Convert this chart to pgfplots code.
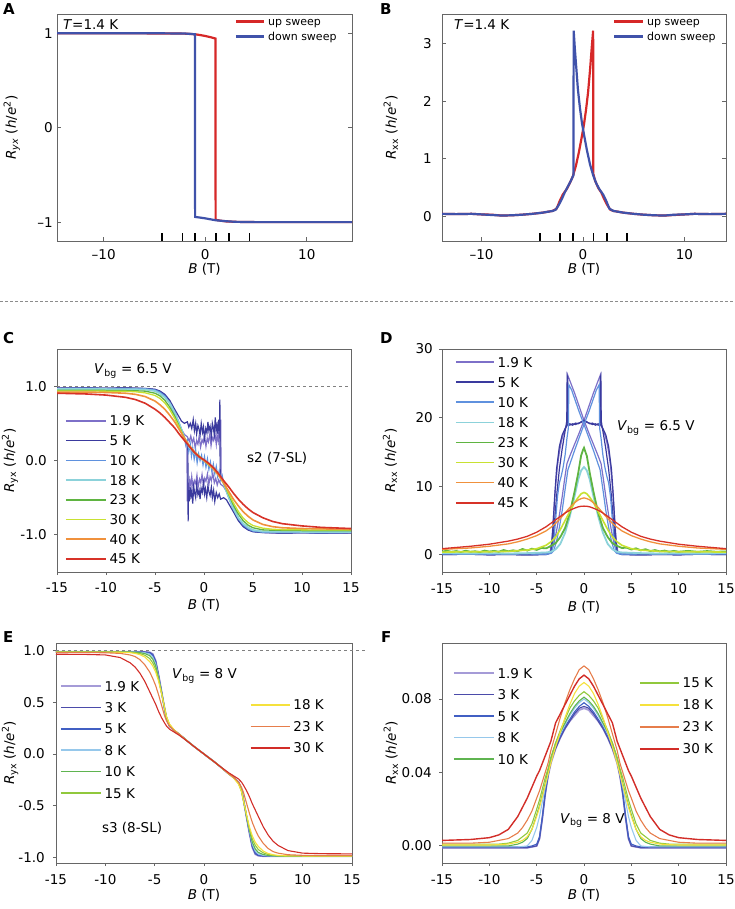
\documentclass[border=0pt]{standalone}
\usepackage{fontspec}
\setmainfont{DejaVu Sans}
\usepackage{pgfplots}
\usepackage{pgfplotstable}
\pgfplotsset{compat=1.18}

\definecolor{upred}{RGB}{214,40,40}
\definecolor{dnblu}{RGB}{64,82,170}
\definecolor{ka}{RGB}{125,112,200}
\definecolor{kb}{RGB}{58,58,158}
\definecolor{kc}{RGB}{95,145,222}
\definecolor{kd}{RGB}{140,210,218}
\definecolor{kg}{RGB}{95,180,65}
\definecolor{kh}{RGB}{200,225,50}
\definecolor{ki}{RGB}{240,145,60}
\definecolor{kj}{RGB}{215,50,40}
\definecolor{ma}{RGB}{165,155,215}
\definecolor{mb}{RGB}{75,75,170}
\definecolor{mc}{RGB}{65,95,195}
\definecolor{md}{RGB}{150,200,235}
\definecolor{mg}{RGB}{95,180,80}
\definecolor{mh}{RGB}{145,200,60}
\definecolor{mi}{RGB}{245,225,60}
\definecolor{mj}{RGB}{230,125,75}
\definecolor{mk}{RGB}{210,45,40}

\newcommand{\fs}{\fontsize{13.5}{15}\selectfont}
\newcommand{\fss}{\fontsize{11}{13}\selectfont}

\pgfplotstableread[row sep=\\]{
B d e f g h\\
-15 0.96 0.945 0.935 0.92 0.905\\
-12 0.962 0.945 0.935 0.92 0.895\\
-10 0.96 0.943 0.933 0.915 0.88\\
-8 0.958 0.94 0.93 0.905 0.85\\
-7 0.957 0.938 0.925 0.89 0.82\\
-6 0.955 0.933 0.91 0.86 0.77\\
-5 0.935 0.905 0.875 0.8 0.69\\
-4.5 0.9 0.87 0.835 0.75 0.64\\
-4 0.85 0.81 0.775 0.69 0.58\\
-3.5 0.77 0.72 0.685 0.61 0.51\\
-3 0.65 0.6 0.57 0.52 0.44\\
-2.5 0.49 0.45 0.44 0.41 0.35\\
-2 0.31 0.3 0.3 0.3 0.27\\
-1.5 0.18 0.19 0.2 0.2 0.19\\
-1 0.1 0.11 0.12 0.12 0.11\\
-0.5 0.05 0.06 0.06 0.05 0.05\\
0 0 0 0 0 0.01\\
0.5 -0.05 -0.06 -0.06 -0.05 -0.04\\
1 -0.1 -0.11 -0.12 -0.12 -0.1\\
1.5 -0.18 -0.19 -0.2 -0.2 -0.18\\
2 -0.31 -0.3 -0.3 -0.3 -0.27\\
2.5 -0.49 -0.45 -0.44 -0.41 -0.35\\
3 -0.65 -0.6 -0.57 -0.52 -0.44\\
3.5 -0.77 -0.72 -0.685 -0.61 -0.52\\
4 -0.85 -0.81 -0.775 -0.69 -0.59\\
4.5 -0.9 -0.87 -0.835 -0.75 -0.65\\
5 -0.935 -0.905 -0.875 -0.8 -0.7\\
6 -0.955 -0.933 -0.91 -0.86 -0.77\\
7 -0.957 -0.938 -0.925 -0.89 -0.82\\
8 -0.958 -0.94 -0.93 -0.905 -0.85\\
10 -0.96 -0.943 -0.933 -0.915 -0.88\\
12 -0.962 -0.945 -0.935 -0.92 -0.9\\
15 -0.96 -0.945 -0.935 -0.925 -0.915\\
}\tabC

\pgfplotstableread[row sep=\\]{
B d f g h\\
-15 0.25 0.4 0.8 0.9\\
-12 0.2 0.45 1.0 1.25\\
-10 0.25 0.45 1.25 1.55\\
-8 0.2 0.5 1.6 2.0\\
-7 0.22 0.6 1.9 2.3\\
-6 0.25 0.7 2.3 2.7\\
-5 0.3 0.9 2.8 3.3\\
-4 0.35 1.4 3.5 4.1\\
-3.5 0.45 1.9 4.0 4.6\\
-3 0.8 2.6 4.6 5.1\\
-2.5 1.6 3.7 5.3 5.6\\
-2 3.2 5.0 6.1 6.1\\
-1.5 5.6 6.3 6.9 6.5\\
-1 8.5 7.6 7.6 6.8\\
-0.6 11 8.4 8.0 7.0\\
-0.3 12.3 8.9 8.2 7.08\\
0 12.8 9.1 8.3 7.1\\
0.3 12.3 8.9 8.2 7.08\\
0.6 11 8.4 8.0 7.0\\
1 8.5 7.6 7.6 6.8\\
1.5 5.6 6.3 6.9 6.5\\
2 3.2 5.0 6.1 6.1\\
2.5 1.6 3.7 5.3 5.6\\
3 0.8 2.6 4.6 5.1\\
3.5 0.45 1.9 4.0 4.6\\
4 0.35 1.4 3.5 4.1\\
5 0.3 0.9 2.8 3.3\\
6 0.25 0.7 2.3 2.7\\
7 0.22 0.6 1.9 2.3\\
8 0.2 0.5 1.6 2.0\\
10 0.25 0.45 1.25 1.55\\
12 0.2 0.45 1.0 1.25\\
15 0.25 0.4 0.8 0.9\\
}\tabD

\pgfplotstableread[row sep=\\]{
B a b c d e f g h i\\
-15 0.985 0.985 0.985 0.985 0.984 0.983 0.982 0.978 0.962\\
-12 0.985 0.985 0.985 0.985 0.984 0.983 0.982 0.978 0.96\\
-10 0.985 0.985 0.985 0.985 0.984 0.983 0.982 0.976 0.955\\
-8.5 0.985 0.985 0.985 0.985 0.984 0.983 0.981 0.97 0.93\\
-7.5 0.985 0.985 0.985 0.984 0.983 0.981 0.977 0.955 0.88\\
-7 0.985 0.985 0.984 0.983 0.981 0.976 0.97 0.94 0.84\\
-6.5 0.985 0.984 0.983 0.981 0.977 0.968 0.958 0.91 0.78\\
-6 0.984 0.983 0.981 0.976 0.968 0.952 0.935 0.86 0.7\\
-5.5 0.98 0.978 0.974 0.962 0.948 0.92 0.89 0.79 0.6\\
-5.2 0.965 0.96 0.955 0.935 0.915 0.88 0.85 0.73 0.54\\
-4.9 0.9 0.895 0.89 0.87 0.85 0.82 0.79 0.66 0.48\\
-4.6 0.76 0.755 0.75 0.74 0.73 0.72 0.7 0.57 0.41\\
-4.3 0.6 0.6 0.6 0.59 0.59 0.59 0.58 0.47 0.35\\
-4 0.44 0.44 0.44 0.44 0.44 0.45 0.45 0.37 0.3\\
-3.8 0.34 0.34 0.345 0.345 0.35 0.36 0.36 0.32 0.27\\
-3.5 0.27 0.27 0.27 0.275 0.28 0.285 0.29 0.27 0.24\\
-3 0.225 0.225 0.225 0.225 0.225 0.23 0.23 0.225 0.21\\
-2.5 0.19 0.19 0.19 0.19 0.19 0.19 0.19 0.19 0.18\\
-2 0.15 0.15 0.15 0.15 0.15 0.15 0.15 0.15 0.145\\
-1.5 0.11 0.11 0.11 0.11 0.11 0.11 0.11 0.11 0.11\\
-1 0.072 0.072 0.072 0.072 0.072 0.072 0.072 0.072 0.072\\
-0.5 0.036 0.036 0.036 0.036 0.036 0.036 0.036 0.036 0.036\\
0 0 0 0 0 0 0 0 0 0\\
0.5 -0.036 -0.036 -0.036 -0.036 -0.036 -0.036 -0.036 -0.036 -0.036\\
1 -0.072 -0.072 -0.072 -0.072 -0.072 -0.072 -0.072 -0.072 -0.072\\
1.5 -0.11 -0.11 -0.11 -0.11 -0.11 -0.11 -0.11 -0.11 -0.11\\
2 -0.15 -0.15 -0.15 -0.15 -0.15 -0.15 -0.15 -0.15 -0.145\\
2.5 -0.19 -0.19 -0.19 -0.19 -0.19 -0.19 -0.19 -0.19 -0.18\\
3 -0.225 -0.225 -0.225 -0.225 -0.225 -0.23 -0.23 -0.225 -0.21\\
3.5 -0.27 -0.27 -0.27 -0.275 -0.28 -0.285 -0.29 -0.27 -0.24\\
3.8 -0.34 -0.34 -0.345 -0.345 -0.35 -0.36 -0.36 -0.32 -0.27\\
4 -0.44 -0.44 -0.44 -0.44 -0.44 -0.45 -0.45 -0.37 -0.3\\
4.3 -0.6 -0.6 -0.6 -0.59 -0.59 -0.59 -0.58 -0.47 -0.35\\
4.6 -0.76 -0.755 -0.75 -0.74 -0.73 -0.72 -0.7 -0.57 -0.41\\
4.9 -0.9 -0.895 -0.89 -0.87 -0.85 -0.82 -0.79 -0.66 -0.48\\
5.2 -0.965 -0.96 -0.955 -0.935 -0.915 -0.88 -0.85 -0.73 -0.54\\
5.5 -0.98 -0.978 -0.974 -0.962 -0.948 -0.92 -0.89 -0.79 -0.6\\
6 -0.984 -0.983 -0.981 -0.976 -0.968 -0.952 -0.935 -0.86 -0.7\\
6.5 -0.985 -0.984 -0.983 -0.981 -0.977 -0.968 -0.958 -0.91 -0.78\\
7 -0.985 -0.985 -0.984 -0.983 -0.981 -0.976 -0.97 -0.94 -0.84\\
7.5 -0.985 -0.985 -0.985 -0.984 -0.983 -0.981 -0.977 -0.955 -0.88\\
8.5 -0.985 -0.985 -0.985 -0.985 -0.984 -0.983 -0.981 -0.97 -0.93\\
10 -0.985 -0.985 -0.985 -0.985 -0.984 -0.983 -0.982 -0.976 -0.955\\
12 -0.985 -0.985 -0.985 -0.985 -0.984 -0.983 -0.982 -0.978 -0.96\\
15 -0.985 -0.985 -0.985 -0.985 -0.984 -0.983 -0.982 -0.978 -0.962\\
}\tabE

\pgfplotstableread[row sep=\\]{
B a b c d e f g h i\\
-15 -0.001 -0.001 -0.0005 -0.0005 0 0.001 0.0005 0.0015 0.003\\
-12 -0.001 -0.001 -0.0005 -0.0005 0 0.001 0.0005 0.0015 0.0035\\
-10 -0.001 -0.001 -0.0005 -0.0005 0 0.001 0.0005 0.002 0.0045\\
-9 -0.001 -0.001 -0.0005 -0.0005 0 0.001 0.0007 0.003 0.006\\
-8 -0.001 -0.001 -0.0005 -0.0005 0 0.0015 0.001 0.004 0.009\\
-7 -0.001 -0.001 -0.0005 -0.0005 0.001 0.003 0.002 0.007 0.016\\
-6.5 -0.001 -0.001 -0.0005 -0.0003 0.002 0.005 0.003 0.01 0.021\\
-6 -0.001 -0.001 -0.0005 0 0.004 0.007 0.005 0.014 0.026\\
-5.5 -0.0005 -0.0005 0 0.003 0.009 0.012 0.009 0.019 0.032\\
-5 0 0 0.001 0.01 0.017 0.02 0.016 0.026 0.038\\
-4.7 0.004 0.004 0.005 0.016 0.022 0.025 0.021 0.03 0.041\\
-4.4 0.015 0.015 0.016 0.024 0.028 0.031 0.027 0.035 0.045\\
-4.1 0.028 0.028 0.029 0.032 0.034 0.037 0.033 0.04 0.049\\
-3.8 0.038 0.038 0.039 0.039 0.041 0.042 0.039 0.045 0.053\\
-3.5 0.045 0.046 0.046 0.047 0.048 0.048 0.045 0.052 0.057\\
-3 0.053 0.053 0.054 0.055 0.056 0.056 0.054 0.061 0.067\\
-2.5 0.059 0.059 0.06 0.061 0.062 0.063 0.062 0.07 0.072\\
-2 0.064 0.064 0.065 0.066 0.067 0.069 0.07 0.078 0.077\\
-1.5 0.068 0.068 0.069 0.071 0.072 0.075 0.077 0.085 0.082\\
-1 0.071 0.072 0.073 0.075 0.076 0.079 0.083 0.091 0.087\\
-0.5 0.074 0.075 0.076 0.078 0.079 0.082 0.087 0.096 0.091\\
0 0.075 0.076 0.078 0.08 0.081 0.084 0.089 0.098 0.093\\
0.5 0.074 0.075 0.076 0.078 0.079 0.082 0.087 0.096 0.091\\
1 0.071 0.072 0.073 0.075 0.076 0.079 0.083 0.091 0.087\\
1.5 0.068 0.068 0.069 0.071 0.072 0.075 0.077 0.085 0.082\\
2 0.064 0.064 0.065 0.066 0.067 0.069 0.07 0.078 0.077\\
2.5 0.059 0.059 0.06 0.061 0.062 0.063 0.062 0.07 0.072\\
3 0.053 0.053 0.054 0.055 0.056 0.056 0.054 0.061 0.067\\
3.5 0.045 0.046 0.046 0.047 0.048 0.048 0.045 0.052 0.057\\
3.8 0.038 0.038 0.039 0.039 0.041 0.042 0.039 0.045 0.053\\
4.1 0.028 0.028 0.029 0.032 0.034 0.037 0.033 0.04 0.049\\
4.4 0.015 0.015 0.016 0.024 0.028 0.031 0.027 0.035 0.045\\
4.7 0.004 0.004 0.005 0.016 0.022 0.025 0.021 0.03 0.041\\
5 0 0 0.001 0.01 0.017 0.02 0.016 0.026 0.038\\
5.5 -0.0005 -0.0005 0 0.003 0.009 0.012 0.009 0.019 0.032\\
6 -0.001 -0.001 -0.0005 0 0.004 0.007 0.005 0.014 0.026\\
6.5 -0.001 -0.001 -0.0005 -0.0003 0.002 0.005 0.003 0.01 0.021\\
7 -0.001 -0.001 -0.0005 -0.0005 0.001 0.003 0.002 0.007 0.016\\
8 -0.001 -0.001 -0.0005 -0.0005 0 0.0015 0.001 0.004 0.009\\
9 -0.001 -0.001 -0.0005 -0.0005 0 0.001 0.0007 0.003 0.006\\
10 -0.001 -0.001 -0.0005 -0.0005 0 0.001 0.0005 0.002 0.0045\\
12 -0.001 -0.001 -0.0005 -0.0005 0 0.001 0.0005 0.0015 0.0035\\
15 -0.001 -0.001 -0.0005 -0.0005 0 0.001 0.0005 0.0015 0.003\\
}\tabF

\pgfplotsset{
 base/.style={
  scale only axis, anchor=south west,
  axis line style={black!60, line width=0.9pt},
  tick style={black!60, line width=0.9pt},
  tick align=inside, major tick length=4pt,
  tick label style={font=\fs},
  label style={font=\fs},
  /pgf/number format/assume math mode=true,
  xtick pos=bottom, ytick pos=left,
  x tick label style={anchor=center, yshift=-14pt},
  y tick label style={inner sep=0pt},
  legend cell align=left,
  legend style={draw=none, fill=none, font=\fs, anchor=north west, inner sep=0pt, outer sep=0pt, column sep=3pt,
    nodes={inner sep=0pt, text height=10pt, text depth=0pt}},
 },
 lower/.style={tick align=outside, major tick length=3pt},
 onedec/.style={y tick label style={/pgf/number format/fixed,/pgf/number format/fixed zerofill,/pgf/number format/precision=1}},
}

\begin{document}
\begin{tikzpicture}
\useasboundingbox (0pt,0pt) rectangle (735pt,-909pt);

% ---------------- A ----------------
\begin{axis}[base, at={(57pt,-241pt)}, width=295pt, height=227pt,
  xmin=-14.6, xmax=14.45, ymin=-1.2, ymax=1.205,
  xtick={-10,0,10}, xticklabels={\textendash10,0,10},
  ytick={-1,0,1}, yticklabels={\textendash1,0,1}, ytick pos=both, yticklabel pos=left,
  y tick label style={xshift=-4pt},
  xlabel={\textit{B} (T)}, ylabel={\textit{R}\textsubscript{\textit{yx}} (\textit{h}/\textit{e}\textsuperscript{2})},
  xlabel style={at={(axis description cs:0.5,-0.125)}, anchor=center},
  ylabel style={at={(axis description cs:-0.153,0.5)}, anchor=center},
  legend style={font=\fss, at={(0.603,0.985)}, row sep=7pt, nodes={inner sep=0pt, text height=8pt, text depth=0pt}},
  legend image code/.code={\draw[#1] (0pt,0pt) -- (28pt,0pt);},
]
\addplot[upred, line width=2.2pt] coordinates {(-14.6,1.0) (-8,1.0) (-4,0.999) (-2,0.997) (-1,0.99) (-0.5,0.982) (0,0.972) (0.5,0.96) (1.0,0.945) (1.02,-0.975) (1.5,-0.985) (2,-0.992) (3,-0.997) (5,-1.0) (14.45,-1.0)};
\addlegendentry{up sweep}
\addplot[dnblu, line width=2.2pt] coordinates {(14.45,-1.0) (5,-1.0) (3,-0.997) (2,-0.99) (1,-0.98) (0.5,-0.97) (0,-0.96) (-0.5,-0.952) (-1.0,-0.945) (-1.02,0.99) (-1.5,0.995) (-2,0.998) (-4,1.0) (-14.6,1.0)};
\addlegendentry{down sweep}
\addplot[only marks, mark=|, mark size=4pt, mark options={line width=1.6pt, black}, forget plot] coordinates {(-4.25,-1.158) (-2.25,-1.158) (-1.0,-1.158) (1.05,-1.158) (2.35,-1.158) (4.35,-1.158)};
\node[anchor=west, font=\fs, inner sep=0pt] at (rel axis cs:0.02,0.952) {\textit{T}=1.4 K};
\end{axis}

% ---------------- B ----------------
\begin{axis}[base, at={(442pt,-241pt)}, width=284pt, height=227pt,
  xmin=-13.9, xmax=14.1, ymin=-0.42, ymax=3.507,
  xtick={-10,0,10}, xticklabels={\textendash10,0,10},
  ytick={0,1,2,3}, ytick pos=both, yticklabel pos=left,
  y tick label style={xshift=-10pt},
  xlabel={\textit{B} (T)}, ylabel={\textit{R}\textsubscript{xx} (\textit{h}/\textit{e}\textsuperscript{2})},
  xlabel style={at={(axis description cs:0.5,-0.125)}, anchor=center},
  ylabel style={at={(axis description cs:-0.18,0.5)}, anchor=center},
  legend style={font=\fss, at={(0.602,0.985)}, row sep=7pt, nodes={inner sep=0pt, text height=8pt, text depth=0pt}},
  legend image code/.code={\draw[#1] (0pt,0pt) -- (29pt,0pt);},
]
\addplot[upred, line width=2.2pt] coordinates {(-13.9,0.05)(-12.5,0.045)(-11,0.05)(-10,0.04)(-9,0.035)(-8,0.02)(-7,0.025)(-6,0.035)(-5,0.05)(-4,0.07)(-3,0.1)(-2.6,0.14)(-2.3,0.27)(-2,0.38)(-1.6,0.48)(-1.3,0.58)(-1.0,0.7)(-0.7,0.88)(-0.4,1.12)(-0.1,1.4)(0.1,1.6)(0.3,1.85)(0.5,2.15)(0.7,2.55)(0.85,2.9)(1.0,3.22)(1.02,0.74)(1.2,0.62)(1.5,0.5)(1.8,0.42)(2.1,0.3)(2.4,0.2)(2.7,0.12)(3,0.1)(4,0.07)(5,0.05)(6,0.035)(7,0.025)(8,0.02)(9,0.03)(10,0.04)(11,0.05)(12.5,0.045)(14.1,0.05)};
\addlegendentry{up sweep}
\addplot[dnblu, line width=2.2pt] coordinates {(14.1,0.05)(12.5,0.045)(11,0.05)(10,0.04)(9,0.035)(8,0.02)(7,0.025)(6,0.035)(5,0.05)(4,0.07)(3,0.1)(2.6,0.14)(2.3,0.27)(2,0.38)(1.6,0.48)(1.3,0.58)(1.0,0.72)(0.7,0.9)(0.4,1.14)(0.1,1.42)(-0.1,1.62)(-0.3,1.88)(-0.5,2.2)(-0.65,2.55)(-0.8,2.9)(-0.92,3.22)(-0.94,0.72)(-1.2,0.62)(-1.5,0.52)(-1.8,0.42)(-2.1,0.3)(-2.4,0.2)(-2.7,0.12)(-3,0.1)(-4,0.07)(-5,0.05)(-6,0.035)(-7,0.025)(-8,0.02)(-9,0.03)(-10,0.04)(-11,0.05)(-12.5,0.045)(-13.9,0.05)};
\addlegendentry{down sweep}
\addplot[only marks, mark=|, mark size=4pt, mark options={line width=1.6pt, black}, forget plot] coordinates {(-4.25,-0.351) (-2.25,-0.351) (-1.0,-0.351) (1.05,-0.351) (2.35,-0.351) (4.35,-0.351)};
\node[anchor=west, font=\fs, inner sep=0pt] at (rel axis cs:0.042,0.952) {\textit{T}=1.4 K};
\end{axis}

% ---------------- C ----------------
\begin{axis}[base, lower, onedec, at={(57pt,-572pt)}, width=294pt, height=223pt,
  xmin=-15, xmax=15, ymin=-1.5, ymax=1.5,
  xtick={-15,-10,...,15}, ytick={-1,0,1},
  y tick label style={xshift=-7pt},
  x tick label style={yshift=1pt},
  xlabel={\textit{B} (T)}, ylabel={\textit{R}\textsubscript{yx} (\textit{h}/\textit{e}\textsuperscript{2})},
  xlabel style={at={(axis description cs:0.5,-0.148)}, anchor=center},
  ylabel style={at={(axis description cs:-0.16,0.5)}, anchor=center},
  legend style={at={(0.0272,0.6996)}, row sep=9.7pt},
  legend image code/.code={\draw[#1, line width=1.6pt] (0pt,0pt) -- (40pt,0pt);},
]
\addplot[gray, dashed, line width=0.8pt, forget plot] coordinates {(-15,1) (15,1)};
\addplot[ka, line width=1.2pt] coordinates {(-15,0.965)(-12,0.97)(-10,0.966)(-8,0.97)(-6,0.965)(-5,0.95)(-4.5,0.92)(-4,0.86)(-3.5,0.77)(-3,0.63)(-2.5,0.46)(-2,0.29)(-1.75,0.22)(-1.7,-0.55)(-1.64,-0.3)(-1.55,-0.41)(-1.45,-0.26)(-1.33,-0.35)(-1.25,-0.22)(-1.1,-0.38)(-0.98,-0.27)(-0.85,-0.31)(-0.72,-0.2)(-0.6,-0.36)(-0.45,-0.25)(-0.33,-0.3)(-0.2,-0.19)(-0.05,-0.34)(0.08,-0.24)(0.2,-0.28)(0.35,-0.18)(0.5,-0.32)(0.62,-0.22)(0.75,-0.27)(0.9,-0.17)(1.05,-0.3)(1.2,-0.24)(1.35,-0.33)(1.5,-0.26)(1.7,-0.32)(2,-0.35)(2.3,-0.42)(2.6,-0.52)(3,-0.64)(3.5,-0.78)(4,-0.87)(4.5,-0.925)(5,-0.95)(6,-0.965)(8,-0.97)(10,-0.966)(12,-0.972)(15,-0.97)};
\addlegendentry{1.9 K}
\addplot[ka, line width=1.2pt, forget plot] coordinates {(15,-0.965)(12,-0.97)(10,-0.966)(8,-0.97)(6,-0.965)(5,-0.95)(4.5,-0.92)(4,-0.86)(3.5,-0.77)(3,-0.63)(2.5,-0.46)(2,-0.29)(1.75,-0.22)(1.7,0.55)(1.64,0.3)(1.55,0.41)(1.45,0.26)(1.33,0.35)(1.25,0.22)(1.1,0.38)(0.98,0.27)(0.85,0.31)(0.72,0.2)(0.6,0.36)(0.45,0.25)(0.33,0.3)(0.2,0.19)(0.05,0.34)(-0.08,0.24)(-0.2,0.28)(-0.35,0.18)(-0.5,0.32)(-0.62,0.22)(-0.75,0.27)(-0.9,0.17)(-1.05,0.3)(-1.2,0.24)(-1.35,0.33)(-1.5,0.26)(-1.7,0.32)(-2,0.35)(-2.3,0.42)(-2.6,0.52)(-3,0.64)(-3.5,0.78)(-4,0.87)(-4.5,0.925)(-5,0.95)(-6,0.965)(-8,0.97)(-10,0.966)(-12,0.972)(-15,0.97)};
\addplot[kb, line width=1.2pt] coordinates {(-15,0.97)(-12,0.975)(-10,0.972)(-8,0.976)(-6,0.968)(-5,0.955)(-4.5,0.93)(-4,0.88)(-3.5,0.79)(-3,0.66)(-2.5,0.48)(-2,0.3)(-1.8,0.24)(-1.65,0.2)(-1.62,-0.82)(-1.58,-0.4)(-1.5,-0.55)(-1.42,-0.36)(-1.33,-0.47)(-1.25,-0.41)(-1.15,-0.58)(-1.05,-0.35)(-0.95,-0.44)(-0.85,-0.5)(-0.75,-0.33)(-0.62,-0.46)(-0.5,-0.4)(-0.4,-0.52)(-0.3,-0.37)(-0.18,-0.43)(-0.05,-0.3)(0.05,-0.45)(0.15,-0.38)(0.28,-0.5)(0.4,-0.34)(0.5,-0.42)(0.62,-0.47)(0.75,-0.36)(0.85,-0.5)(0.98,-0.4)(1.1,-0.55)(1.25,-0.43)(1.4,-0.5)(1.55,-0.45)(1.7,-0.52)(2,-0.5)(2.3,-0.53)(2.6,-0.6)(3,-0.69)(3.5,-0.81)(4,-0.89)(4.5,-0.935)(5,-0.958)(6,-0.97)(8,-0.976)(10,-0.972)(12,-0.977)(15,-0.975)};
\addlegendentry{5 K}
\addplot[kb, line width=1.2pt, forget plot] coordinates {(15,-0.97)(12,-0.975)(10,-0.972)(8,-0.976)(6,-0.968)(5,-0.955)(4.5,-0.93)(4,-0.88)(3.5,-0.79)(3,-0.66)(2.5,-0.48)(2,-0.3)(1.8,-0.24)(1.65,-0.2)(1.62,0.82)(1.58,0.4)(1.5,0.55)(1.42,0.36)(1.33,0.47)(1.25,0.41)(1.15,0.58)(1.05,0.35)(0.95,0.44)(0.85,0.5)(0.75,0.33)(0.62,0.46)(0.5,0.4)(0.4,0.52)(0.3,0.37)(0.18,0.43)(0.05,0.3)(-0.05,0.45)(-0.15,0.38)(-0.28,0.5)(-0.4,0.34)(-0.5,0.42)(-0.62,0.47)(-0.75,0.36)(-0.85,0.5)(-0.98,0.4)(-1.1,0.55)(-1.25,0.43)(-1.4,0.5)(-1.55,0.45)(-1.7,0.52)(-2,0.5)(-2.3,0.53)(-2.6,0.6)(-3,0.69)(-3.5,0.81)(-4,0.89)(-4.5,0.935)(-5,0.958)(-6,0.97)(-8,0.976)(-10,0.972)(-12,0.977)(-15,0.975)};
\addplot[kc, line width=1.2pt] coordinates {(-15,0.97)(-12,0.972)(-10,0.97)(-8,0.968)(-6,0.965)(-5,0.95)(-4.5,0.92)(-4,0.87)(-3.5,0.78)(-3,0.65)(-2.5,0.48)(-2.2,0.36)(-2,0.3)(-1.85,0.2)(-1.7,0.27)(-1.55,0.12)(-1.4,0.22)(-1.28,0.06)(-1.15,0.17)(-1,0.02)(-0.85,0.14)(-0.7,-0.03)(-0.55,0.09)(-0.4,0.0)(-0.25,0.07)(-0.1,-0.06)(0.05,0.05)(0.2,-0.09)(0.35,0.02)(0.5,-0.12)(0.65,-0.02)(0.8,-0.15)(0.95,-0.05)(1.1,-0.18)(1.25,-0.08)(1.4,-0.22)(1.55,-0.14)(1.7,-0.26)(1.85,-0.2)(2,-0.3)(2.2,-0.36)(2.5,-0.48)(3,-0.65)(3.5,-0.78)(4,-0.87)(4.5,-0.92)(5,-0.95)(6,-0.965)(8,-0.968)(10,-0.97)(12,-0.972)(15,-0.97)};
\addlegendentry{10 K}
\addplot[kd, line width=1.8pt] table[x=B, y=d] {\tabC};
\addlegendentry{18 K}
\addplot[kg, line width=1.3pt] table[x=B, y=e] {\tabC};
\addlegendentry{23 K}
\addplot[kh, line width=1.3pt] table[x=B, y=f] {\tabC};
\addlegendentry{30 K}
\addplot[ki, line width=1.6pt] table[x=B, y=g] {\tabC};
\addlegendentry{40 K}
\addplot[kj, line width=1.6pt] table[x=B, y=h] {\tabC};
\addlegendentry{45 K}
\node[anchor=west, font=\fs, inner sep=0pt] at (rel axis cs:0.126,0.901) {\textit{V}\textsubscript{bg} = 6.5 V};
\node[anchor=west, font=\fs, inner sep=0pt] at (rel axis cs:0.646,0.511) {s2 (7-SL)};
\end{axis}

% ---------------- D ----------------
\begin{axis}[base, lower, at={(442pt,-572pt)}, width=284pt, height=223pt,
  xmin=-15, xmax=15, ymin=-2.5, ymax=30,
  xtick={-15,-10,...,15}, ytick={0,10,20,30},
  y tick label style={xshift=-6pt},
  x tick label style={yshift=0pt},
  xlabel={\textit{B} (T)}, ylabel={\textit{R}\textsubscript{xx} (\textit{h}/\textit{e}\textsuperscript{2})},
  xlabel style={at={(axis description cs:0.5,-0.157)}, anchor=center},
  ylabel style={at={(axis description cs:-0.183,0.5)}, anchor=center},
  legend style={at={(0.0458,0.964)}, row sep=10.1pt},
  legend image code/.code={\draw[#1, line width=1.6pt] (0pt,0pt) -- (38pt,0pt);},
]
\addplot[ka, line width=1.2pt] coordinates {(-15,0.1)(-12,0.1)(-10,0.05)(-8,0.1)(-6,0.05)(-4,0.1)(-3.6,0.3)(-3.4,2)(-3.2,6)(-3,10)(-2.8,13)(-2.6,15)(-2.4,16.5)(-2.2,17.5)(-2,18.3)(-1.8,18.8)(-1.75,26.3)(-1.5,25.4)(-1,23.6)(-0.5,21.6)(0,19.6)(0.5,17.8)(1,16.1)(1.5,14.4)(1.8,13.3)(2,11.5)(2.3,8.5)(2.6,5.8)(2.9,3.5)(3.2,1.5)(3.5,0.3)(4,0.1)(6,0.05)(8,0.1)(10,0.05)(12,0.1)(15,0.1)};
\addlegendentry{1.9 K}
\addplot[ka, line width=1.2pt, forget plot] coordinates {(15,0.1)(12,0.1)(10,0.05)(8,0.1)(6,0.05)(4,0.1)(3.6,0.3)(3.4,2)(3.2,6)(3,10)(2.8,13)(2.6,15)(2.4,16.5)(2.2,17.5)(2,18.3)(1.8,18.8)(1.75,26.3)(1.5,25.4)(1,23.6)(0.5,21.6)(0,19.6)(-0.5,17.8)(-1,16.1)(-1.5,14.4)(-1.8,13.3)(-2,11.5)(-2.3,8.5)(-2.6,5.8)(-2.9,3.5)(-3.2,1.5)(-3.5,0.3)(-4,0.1)(-6,0.05)(-8,0.1)(-10,0.05)(-12,0.1)(-15,0.1)};
\addplot[kb, line width=1.2pt] coordinates {(-15,0.05)(-12,0.08)(-10,0.02)(-8,0.05)(-6,0.0)(-4,0.05)(-3.5,0.3)(-3.3,3.5)(-3.1,8.5)(-2.9,12.5)(-2.6,15.8)(-2.3,17.5)(-2,18.4)(-1.8,18.9)(-1.5,19.1)(-1.2,18.9)(-0.9,19.2)(-0.6,19.1)(-0.3,19.4)(0,19.6)(0.3,19.3)(0.6,19.2)(0.9,19.0)(1.2,19.1)(1.5,18.9)(1.7,19.0)(1.72,25.8)(1.78,26.1)(1.82,19.5)(2,18)(2.3,15.5)(2.6,12.5)(2.9,8.5)(3.1,5)(3.3,2)(3.5,0.3)(4,0.05)(6,0.0)(8,0.05)(10,0.02)(12,0.08)(15,0.05)};
\addlegendentry{5 K}
\addplot[kb, line width=1.2pt, forget plot] coordinates {(15,0.05)(12,0.08)(10,0.02)(8,0.05)(6,0.0)(4,0.05)(3.5,0.3)(3.3,3.5)(3.1,8.5)(2.9,12.5)(2.6,15.8)(2.3,17.5)(2,18.4)(1.8,18.9)(1.5,19.1)(1.2,18.9)(0.9,19.2)(0.6,19.1)(0.3,19.4)(0,19.6)(-0.3,19.3)(-0.6,19.2)(-0.9,19.0)(-1.2,19.1)(-1.5,18.9)(-1.7,19.0)(-1.72,25.8)(-1.78,26.1)(-1.82,19.5)(-2,18)(-2.3,15.5)(-2.6,12.5)(-2.9,8.5)(-3.1,5)(-3.3,2)(-3.5,0.3)(-4,0.05)(-6,0.0)(-8,0.05)(-10,0.02)(-12,0.08)(-15,0.05)};
\addplot[kc, line width=1.2pt] coordinates {(-15,0.15)(-10,0.1)(-6,0.15)(-4,0.1)(-3.4,0.3)(-3.2,2)(-3,5)(-2.8,8.5)(-2.6,10.5)(-2.4,11.5)(-2.2,12.8)(-2,14.5)(-1.8,17)(-1.65,18.5)(-1.6,24.8)(-1.3,24)(-1,22.8)(-0.5,20.8)(0,19)(0.5,17.1)(1,15.2)(1.5,13.2)(1.7,12.4)(2,9.5)(2.3,6.5)(2.6,4)(2.9,2)(3.2,0.6)(3.5,0.2)(4,0.1)(6,0.15)(10,0.1)(15,0.15)};
\addlegendentry{10 K}
\addplot[kc, line width=1.2pt, forget plot] coordinates {(15,0.15)(10,0.1)(6,0.15)(4,0.1)(3.4,0.3)(3.2,2)(3,5)(2.8,8.5)(2.6,10.5)(2.4,11.5)(2.2,12.8)(2,14.5)(1.8,17)(1.65,18.5)(1.6,24.8)(1.3,24)(1,22.8)(0.5,20.8)(0,19)(-0.5,17.1)(-1,15.2)(-1.5,13.2)(-1.7,12.4)(-2,9.5)(-2.3,6.5)(-2.6,4)(-2.9,2)(-3.2,0.6)(-3.5,0.2)(-4,0.1)(-6,0.15)(-10,0.1)(-15,0.15)};
\addplot[kd, line width=1.8pt] table[x=B, y=d] {\tabD};
\addlegendentry{18 K}
\addplot[kg, line width=1.8pt] coordinates {(-15,0.45)(-14.5,0.6)(-14,0.45)(-13.5,0.55)(-13,0.42)(-12.5,0.6)(-12,0.45)(-11.5,0.52)(-11,0.4)(-10.5,0.62)(-10,0.48)(-9.5,0.58)(-9,0.45)(-8.5,0.7)(-8,0.52)(-7.5,0.66)(-7,0.55)(-6.5,0.85)(-6,0.62)(-5.5,0.9)(-5,0.72)(-4.5,1.0)(-4,0.95)(-3.5,1.3)(-3,1.7)(-2.5,2.6)(-2,3.9)(-1.5,6.1)(-1,9.2)(-0.6,12)(-0.3,14.5)(-0.1,15.3)(0,15.6)(0.1,15.2)(0.3,14.4)(0.6,12)(1,9.2)(1.5,6.1)(2,3.9)(2.5,2.6)(3,1.7)(3.5,1.3)(4,1.0)(4.5,1.05)(5,0.78)(5.5,0.95)(6,0.65)(6.5,0.82)(7,0.55)(7.5,0.7)(8,0.5)(8.5,0.62)(9,0.46)(9.5,0.58)(10,0.45)(11,0.58)(12,0.44)(13,0.55)(14,0.45)(15,0.5)};
\addlegendentry{23 K}
\addplot[kh, line width=1.6pt] table[x=B, y=f] {\tabD};
\addlegendentry{30 K}
\addplot[ki, line width=1.3pt] table[x=B, y=g] {\tabD};
\addlegendentry{40 K}
\addplot[kj, line width=1.3pt] table[x=B, y=h] {\tabD};
\addlegendentry{45 K}
\node[anchor=west, font=\fs, inner sep=0pt] at (rel axis cs:0.616,0.646) {\textit{V}\textsubscript{bg} = 6.5 V};
\end{axis}

% ---------------- E ----------------
\begin{axis}[base, lower, onedec, at={(56pt,-863pt)}, width=296pt, height=220pt, clip=false,
  xmin=-15, xmax=15, ymin=-1.05, ymax=1.07,
  xtick={-15,-10,...,15}, ytick={-1,-0.5,0,0.5,1},
  y tick label style={xshift=-8pt},
  x tick label style={yshift=0pt},
  xlabel={\textit{B} (T)}, ylabel={\textit{R}\textsubscript{yx} (\textit{h}/\textit{e}\textsuperscript{2})},
  xlabel style={at={(axis description cs:0.5,-0.146)}, anchor=center},
  ylabel style={at={(axis description cs:-0.155,0.5)}, anchor=center},
  legend style={at={(0.0135,0.827)}, row sep=11.4pt},
  legend image code/.code={\draw[#1, line width=1.6pt] (0pt,0pt) -- (40pt,0pt);},
]
\addplot[gray, dashed, line width=0.8pt, forget plot] coordinates {(-15,1) (16.6,1)};
\addplot[ma, line width=1.8pt] table[x=B, y=a] {\tabE};
\addlegendentry{1.9 K}
\addplot[mb, line width=1.1pt] table[x=B, y=b] {\tabE};
\addlegendentry{3 K}
\addplot[mc, line width=1.1pt] table[x=B, y=c] {\tabE};
\addlegendentry{5 K}
\addplot[md, line width=1.1pt] table[x=B, y=d] {\tabE};
\addlegendentry{8 K}
\addplot[mg, line width=1.1pt] table[x=B, y=e] {\tabE};
\addlegendentry{10 K}
\addplot[mh, line width=1.1pt] table[x=B, y=f] {\tabE};
\addlegendentry{15 K}
\addplot[mi, line width=1.1pt] table[x=B, y=g] {\tabE};
\addplot[mj, line width=1.1pt] table[x=B, y=h] {\tabE};
\addplot[mk, line width=1.1pt] table[x=B, y=i] {\tabE};
\node[anchor=west, font=\fs, inner sep=0pt] at (rel axis cs:0.392,0.85) {\textit{V}\textsubscript{bg} = 8 V};
\node[anchor=west, font=\fs, inner sep=0pt] at (rel axis cs:0.155,0.159) {s3 (8-SL)};
\end{axis}
\begin{axis}[base, hide axis, at={(56pt,-863pt)}, width=296pt, height=220pt,
  xmin=0, xmax=1, ymin=0, ymax=1,
  legend style={at={(0.655,0.741)}, row sep=11.5pt},
  legend image code/.code={\draw[#1, line width=1.6pt] (0pt,0pt) -- (39pt,0pt);},
]
\addlegendimage{mi}\addlegendentry{18 K}
\addlegendimage{mj}\addlegendentry{23 K}
\addlegendimage{mk}\addlegendentry{30 K}
\end{axis}

% ---------------- F ----------------
\begin{axis}[base, lower, at={(442pt,-863pt)}, width=284pt, height=220pt,
  xmin=-15, xmax=15, ymin=-0.0093, ymax=0.1105,
  xtick={-15,-10,...,15}, ytick={0,0.04,0.08}, scaled y ticks=false,
  y tick label style={xshift=-7pt, /pgf/number format/fixed,/pgf/number format/fixed zerofill,/pgf/number format/precision=2},
  x tick label style={yshift=0pt},
  xlabel={\textit{B} (T)}, ylabel={\textit{R}\textsubscript{xx} (\textit{h}/\textit{e}\textsuperscript{2})},
  xlabel style={at={(axis description cs:0.5,-0.146)}, anchor=center},
  ylabel style={at={(axis description cs:-0.18,0.5)}, anchor=center},
  legend style={at={(0.0387,0.886)}, row sep=11.5pt},
  legend image code/.code={\draw[#1, line width=1.6pt] (0pt,0pt) -- (40pt,0pt);},
]
\addplot[ma, line width=1.8pt] table[x=B, y=a] {\tabF};
\addlegendentry{1.9 K}
\addplot[mb, line width=1.1pt] table[x=B, y=b] {\tabF};
\addlegendentry{3 K}
\addplot[mc, line width=1.1pt] table[x=B, y=c] {\tabF};
\addlegendentry{5 K}
\addplot[md, line width=1.1pt] table[x=B, y=d] {\tabF};
\addlegendentry{8 K}
\addplot[mg, line width=1.1pt] table[x=B, y=e] {\tabF};
\addlegendentry{10 K}
\addplot[mh, line width=1.1pt] table[x=B, y=f] {\tabF};
\addplot[mi, line width=1.1pt] table[x=B, y=g] {\tabF};
\addplot[mj, line width=1.1pt] table[x=B, y=h] {\tabF};
\addplot[mk, line width=1.4pt] table[x=B, y=i] {\tabF};
\node[anchor=west, font=\fs, inner sep=0pt] at (rel axis cs:0.415,0.195) {\textit{V}\textsubscript{bg} = 8 V};
\end{axis}
\begin{axis}[base, hide axis, at={(442pt,-863pt)}, width=284pt, height=220pt,
  xmin=0, xmax=1, ymin=0, ymax=1,
  legend style={at={(0.694,0.841)}, row sep=12pt},
  legend image code/.code={\draw[#1, line width=1.6pt] (0pt,0pt) -- (39pt,0pt);},
]
\addlegendimage{mh}\addlegendentry{15 K}
\addlegendimage{mi}\addlegendentry{18 K}
\addlegendimage{mj}\addlegendentry{23 K}
\addlegendimage{mk}\addlegendentry{30 K}
\end{axis}

% panel letters and separator
\draw[black!45, dash pattern=on 2.5pt off 2.5pt, line width=0.8pt] (0pt,-301pt) -- (735pt,-301pt);
\node[anchor=west, inner sep=0pt, font=\bfseries\fontsize{15}{15}\selectfont] at (3pt,-9pt) {A};
\node[anchor=west, inner sep=0pt, font=\bfseries\fontsize{15}{15}\selectfont] at (380pt,-9pt) {B};
\node[anchor=west, inner sep=0pt, font=\bfseries\fontsize{15}{15}\selectfont] at (3pt,-338pt) {C};
\node[anchor=west, inner sep=0pt, font=\bfseries\fontsize{15}{15}\selectfont] at (380pt,-338pt) {D};
\node[anchor=west, inner sep=0pt, font=\bfseries\fontsize{15}{15}\selectfont] at (3pt,-637pt) {E};
\node[anchor=west, inner sep=0pt, font=\bfseries\fontsize{15}{15}\selectfont] at (381pt,-637pt) {F};
\end{tikzpicture}
\end{document}
